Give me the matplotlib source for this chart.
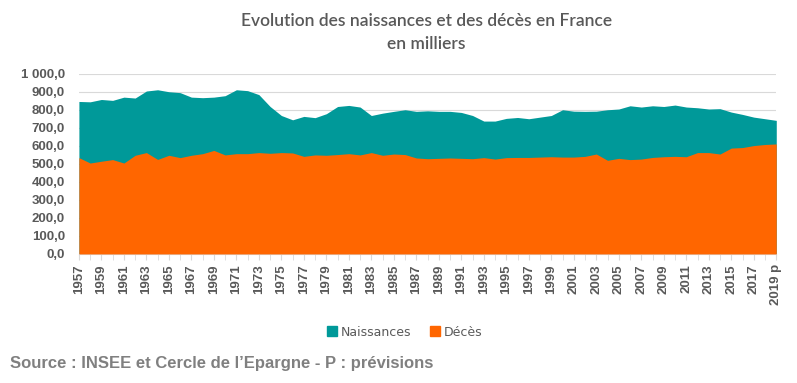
import matplotlib.pyplot as plt
import matplotlib.ticker as mticker
from matplotlib.patches import Patch

# Data (milliers)
years = list(range(1957, 2020))
naissances = [847, 845, 858, 853, 871, 866, 905, 912, 901, 896,
              871, 868, 871, 879, 912, 907, 885, 819, 769, 745,
              764, 757, 779, 819, 825, 816, 769, 782, 792, 801,
              792, 795, 792, 792, 786, 769, 738, 738, 753, 758,
              751, 760, 769, 801, 793, 792, 793, 801, 805, 823,
              816, 823, 819, 827, 816, 812, 805, 807, 788, 775,
              760, 751, 742]
deces = [535, 505, 515, 524, 505, 548, 563, 525, 548, 535,
         548, 557, 575, 550, 557, 557, 563, 559, 563, 561,
         542, 550, 548, 552, 557, 550, 563, 548, 555, 552,
         533, 529, 531, 533, 531, 529, 535, 527, 535, 536,
         536, 538, 540, 538, 538, 542, 555, 520, 531, 524,
         527, 536, 540, 542, 540, 563, 563, 555, 588, 591,
         602, 608, 611]
labels = [str(y) for y in years]
labels[-1] = "2019 p"

teal = "#009999"
orange = "#FF6600"
grey = "#595959"

fig = plt.figure(figsize=(7.97, 3.83), dpi=100)
ax = fig.add_axes([0.099, 0.337, 0.875, 0.47])

x = list(range(len(years)))
ax.fill_between(x, 0, naissances, color=teal, linewidth=0, zorder=2)
ax.fill_between(x, 0, deces, color=orange, linewidth=0, zorder=3)

ax.set_xlim(0, len(years) - 1)
ax.set_ylim(0, 1000)
ax.yaxis.set_major_locator(mticker.MultipleLocator(100))
ax.yaxis.set_major_formatter(mticker.FuncFormatter(
    lambda v, p: f"{v:,.1f}".replace(",", " ").replace(".", ",")))
ax.grid(axis="y", color="#d9d9d9", linewidth=0.8, zorder=0)
ax.set_axisbelow(True)

ax.set_xticks(x[::2])
ax.set_xticklabels(labels[::2], rotation=90)
ax.set_xticks(x, minor=True)

for s in ["top", "right", "left"]:
    ax.spines[s].set_visible(False)
ax.spines["bottom"].set_color("#d9d9d9")
ax.tick_params(axis="y", length=0, labelsize=9.5, labelcolor=grey, pad=10)
ax.tick_params(axis="x", which="both", length=4, color="#d9d9d9",
               labelsize=9.5, labelcolor=grey)
for lbl in ax.get_xticklabels() + ax.get_yticklabels():
    lbl.set_fontweight("bold")
    lbl.set_family("Liberation Sans")

fig.text(0.535, 0.945, "Evolution des naissances et des décès en France",
         ha="center", va="center", fontsize=12.5, color=grey, family="Lato",
         fontweight="semibold")
fig.text(0.535, 0.885, "en milliers", ha="center", va="center",
         fontsize=12.5, color=grey, family="Lato", fontweight="semibold")

handles = [Patch(color=teal, label="Naissances"), Patch(color=orange, label="Décès")]
fig.legend(handles=handles, loc="center", bbox_to_anchor=(0.508, 0.133), ncol=2,
           frameon=False, fontsize=9, handlelength=0.8, handleheight=0.8,
           handletextpad=0.3, columnspacing=1.5,
           labelcolor=grey)

fig.text(0.013, 0.04, "Source : INSEE et Cercle de l\u2019Epargne - P : prévisions",
         fontsize=12, fontweight="bold", color="#808080", family="Liberation Sans")

fig.savefig("out.png", dpi=100)
